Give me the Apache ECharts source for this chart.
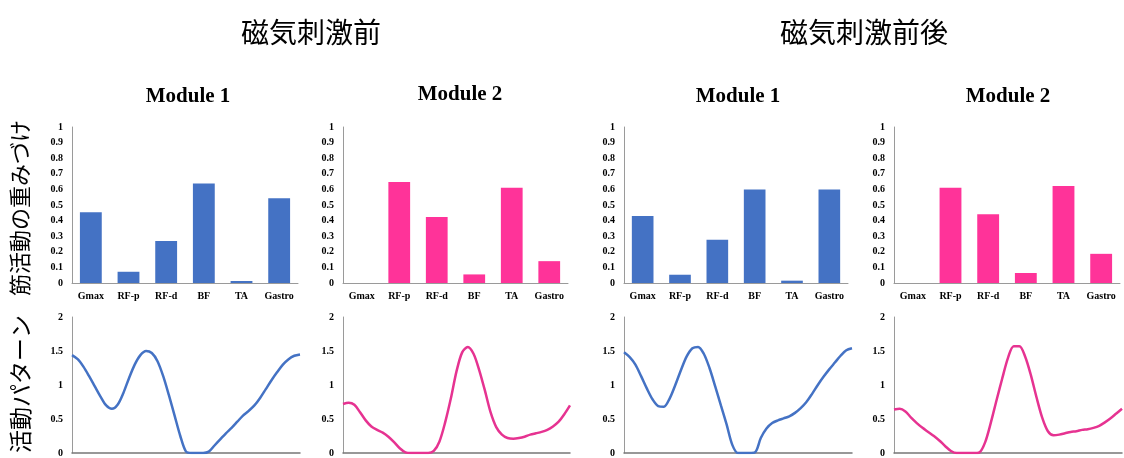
<!DOCTYPE html>
<html><head><meta charset="utf-8">
<script src="https://cdn.jsdelivr.net/npm/echarts@6/dist/echarts.min.js"></script>
<style>html,body{margin:0;padding:0;background:#fff}#c{width:1124px;height:458px}</style>
</head><body><div id="c"></div>
<script>
const muscles = ['Gmax','RF-p','RF-d','BF','TA','Gastro'];
const preM1 = [0.453,0.072,0.27,0.638,0.013,0.543];
const preM2 = [0,0.647,0.423,0.055,0.61,0.14];
const postM1 = [0.43,0.053,0.277,0.6,0.015,0.6];
const postM2 = [0,0.61,0.44,0.064,0.621,0.187];
const barTicks = [0,0.1,0.2,0.3,0.4,0.5,0.6,0.7,0.8,0.9,1];

const phase = [0,2.5,5,7.5,10,12.5,15,17.5,20,22.5,25,27.5,30,32.5,35,37.5,40,42.5,45,47.5,50,
               52.5,55,57.5,60,62.5,65,67.5,70,72.5,75,77.5,80,82.5,85,87.5,90,92.5,95,97.5,100];
const preAct1  = [1.44,1.38,1.27,1.13,0.98,0.83,0.70,0.65,0.71,0.88,1.10,1.30,1.44,1.50,1.47,1.35,1.13,0.85,0.55,0.25,0.02,
                  0,0,0,0.02,0.11,0.20,0.29,0.37,0.46,0.55,0.62,0.70,0.81,0.94,1.07,1.19,1.30,1.38,1.43,1.45];
const preAct2  = [0.72,0.74,0.71,0.60,0.48,0.39,0.34,0.30,0.24,0.16,0.07,0.01,0,0,0,0,0.03,0.17,0.45,0.80,1.20,
                  1.48,1.56,1.46,1.22,0.92,0.60,0.38,0.27,0.22,0.21,0.22,0.24,0.27,0.29,0.31,0.34,0.39,0.46,0.57,0.70];
const postAct1 = [1.48,1.41,1.30,1.13,0.95,0.79,0.69,0.68,0.80,1.00,1.22,1.42,1.54,1.56,1.46,1.25,0.98,0.70,0.42,0.12,0,
                  0,0,0.01,0.22,0.36,0.44,0.48,0.51,0.54,0.59,0.66,0.75,0.87,1.00,1.12,1.23,1.33,1.43,1.51,1.54];
const postAct2 = [0.64,0.65,0.61,0.52,0.44,0.37,0.31,0.25,0.18,0.10,0.03,0,0,0,0,0.01,0.16,0.45,0.78,1.10,1.40,
                  1.57,1.57,1.42,1.15,0.82,0.52,0.32,0.26,0.27,0.29,0.31,0.32,0.34,0.35,0.37,0.40,0.45,0.51,0.58,0.65];
const actTicks = [0,0.5,1,1.5,2];

const BLUE = '#4472C4', PINK = '#FF3399', PINKLINE = '#E63391';
const serif = '"Liberation Serif","DejaVu Serif",serif';
const jp = '"Noto Sans CJK JP","Noto Sans CJK SC",sans-serif';

const barGrids = [[72,298],[343,568],[624,848],[894,1120]];
const lineGrids = [[72,300],[343,570],[624,852],[894,1122]];
const barData = [preM1,preM2,postM1,postM2];
const barColors = [BLUE,PINK,BLUE,PINK];
const lineData = [preAct1,preAct2,postAct1,postAct2];
const lineColors = [BLUE,PINKLINE,BLUE,PINKLINE];

const grid=[], xAxis=[], yAxis=[], series=[];
const axisGray = '#9a9a9a';
barGrids.forEach((g,i)=>{
  grid.push({left:g[0], top:127, width:g[1]-g[0], height:156});
  xAxis.push({type:'category', gridIndex:i, data:muscles,
    axisLine:{lineStyle:{color:axisGray,width:1}}, axisTick:{show:false},
    axisLabel:{interval:0, margin:8, color:'#000', fontFamily:serif, fontWeight:'bold', fontSize:10}});
  yAxis.push({type:'value', gridIndex:i, min:0, max:1, interval:0.1,
    axisLine:{show:true, lineStyle:{color:axisGray}}, axisTick:{show:false}, splitLine:{show:false},
    axisLabel:{margin:9, color:'#000', fontFamily:serif, fontWeight:'bold', fontSize:10,
      formatter:v=>{const t=barTicks.find(x=>Math.abs(x-v)<1e-6);return t===undefined?'':String(t);}}});
  series.push({type:'bar', xAxisIndex:i, yAxisIndex:i, data:barData[i], barWidth:'58%',
    itemStyle:{color:barColors[i]}, silent:true});
});
lineGrids.forEach((g,j)=>{
  const i = j+4;
  grid.push({left:g[0], top:317, width:g[1]-g[0], height:138});
  xAxis.push({type:'value', gridIndex:i, min:0, max:100,
    axisLine:{show:true, onZero:false, lineStyle:{color:'#777',width:1.5}}, axisTick:{show:false},
    axisLabel:{show:false}, splitLine:{show:false}});
  yAxis.push({type:'value', gridIndex:i, min:0, max:2, interval:0.5,
    axisLine:{show:true, lineStyle:{color:axisGray}}, axisTick:{show:false}, splitLine:{show:false},
    axisLabel:{margin:9, color:'#000', fontFamily:serif, fontWeight:'bold', fontSize:10,
      formatter:v=>{const t=actTicks.find(x=>Math.abs(x-v)<1e-6);return t===undefined?'':String(t);}}});
  const act = lineData[j];
  series.push({type:'line', xAxisIndex:i, yAxisIndex:i, data:phase.map((p,k)=>[p,act[k]]),
    smooth:0.3, showSymbol:false, lineStyle:{color:lineColors[j], width:2.5}, silent:true});
});

const title = [
  {text:'磁気刺激前', left:306, top:13, textAlign:'center', textStyle:{fontFamily:jp, fontSize:28, fontWeight:'normal', color:'#000'}},
  {text:'磁気刺激前後', left:859, top:13, textAlign:'center', textStyle:{fontFamily:jp, fontSize:28, fontWeight:'normal', color:'#000'}},
  {text:'Module 1', left:183, top:81, textAlign:'center', textStyle:{fontFamily:serif, fontSize:21, fontWeight:'bold', color:'#000'}},
  {text:'Module 2', left:455, top:79, textAlign:'center', textStyle:{fontFamily:serif, fontSize:21, fontWeight:'bold', color:'#000'}},
  {text:'Module 1', left:733, top:81, textAlign:'center', textStyle:{fontFamily:serif, fontSize:21, fontWeight:'bold', color:'#000'}},
  {text:'Module 2', left:1003, top:81, textAlign:'center', textStyle:{fontFamily:serif, fontSize:21, fontWeight:'bold', color:'#000'}}
];
const graphic = [
  {type:'text', x:20, y:208, rotation:Math.PI/2, style:{text:'筋活動の重みづけ', font:'22px '+jp, fill:'#000', align:'center', verticalAlign:'middle'}},
  {type:'text', x:20, y:384, rotation:Math.PI/2, style:{text:'活動パターン', font:'23px '+jp, fill:'#000', align:'center', verticalAlign:'middle'}}
];
const chart = echarts.init(document.getElementById('c'));
chart.setOption({animation:false, backgroundColor:'#fff', title, graphic, grid, xAxis, yAxis, series});
</script></body></html>
